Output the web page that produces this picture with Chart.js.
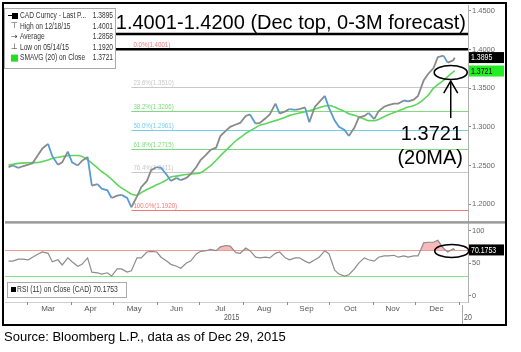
<!DOCTYPE html>
<html lang="en">
<head>
<meta charset="UTF-8">
<title>USDCAD with RSI</title>
<script src="https://cdn.jsdelivr.net/npm/chart.js"></script>
<style>
  body { margin: 0; background: #fff; }
  #wrap { position: relative; width: 521px; height: 352px; }
  #chart { position: absolute; left: 0; top: 0; }
  #source { position: absolute; left: 4px; top: 329px; font: 13px 'Liberation Sans', Arial, sans-serif; color: #000; white-space: nowrap; }
</style>
</head>
<body>
<div id="wrap">
  <canvas id="chart" width="521" height="352"></canvas>
  <div id="source">Source: Bloomberg L.P., data as of Dec 29, 2015</div>
</div>
<script>
const dates = [
  '2015-02-16','2015-02-19','2015-02-23','2015-02-26','2015-03-02','2015-03-05','2015-03-09','2015-03-12',
  '2015-03-16','2015-03-19','2015-03-23','2015-03-26','2015-03-30','2015-04-02','2015-04-06','2015-04-09',
  '2015-04-13','2015-04-16','2015-04-20','2015-04-23','2015-04-27','2015-04-30','2015-05-04','2015-05-07',
  '2015-05-11','2015-05-14','2015-05-18','2015-05-21','2015-05-25','2015-05-28','2015-06-01','2015-06-04',
  '2015-06-08','2015-06-11','2015-06-15','2015-06-18','2015-06-22','2015-06-25','2015-06-29','2015-07-02',
  '2015-07-06','2015-07-09','2015-07-13','2015-07-16','2015-07-20','2015-07-23','2015-07-27','2015-07-30',
  '2015-08-03','2015-08-06','2015-08-10','2015-08-13','2015-08-17','2015-08-20','2015-08-24','2015-08-27',
  '2015-08-31','2015-09-03','2015-09-07','2015-09-10','2015-09-14','2015-09-17','2015-09-21','2015-09-24',
  '2015-09-28','2015-10-01','2015-10-05','2015-10-08','2015-10-12','2015-10-15','2015-10-19','2015-10-22',
  '2015-10-26','2015-10-29','2015-11-02','2015-11-05','2015-11-09','2015-11-12','2015-11-16','2015-11-19',
  '2015-11-23','2015-11-26','2015-11-30','2015-12-03','2015-12-07','2015-12-10','2015-12-14','2015-12-17',
  '2015-12-21','2015-12-24','2015-12-28','2015-12-29'
];
const closeValues = [
  1.2480,1.2500,1.2470,1.2490,1.2510,1.2530,1.2640,1.2720,
  1.2780,1.2620,1.2510,1.2540,1.2680,1.2540,1.2500,1.2560,
  1.2610,1.2240,1.2260,1.2200,1.2180,1.2080,1.2110,1.2120,
  1.2080,1.1960,1.2100,1.2220,1.2300,1.2440,1.2480,1.2470,
  1.2380,1.2300,1.2340,1.2310,1.2340,1.2390,1.2480,1.2570,
  1.2640,1.2700,1.2730,1.2880,1.2950,1.3000,1.3030,1.3050,
  1.3140,1.3160,1.3040,1.3050,1.3110,1.3160,1.3300,1.3170,
  1.3200,1.3230,1.3220,1.3230,1.3250,1.3060,1.3260,1.3320,
  1.3400,1.3240,1.3080,1.3000,1.2960,1.2880,1.2990,1.3120,
  1.3140,1.3180,1.3100,1.3200,1.3260,1.3280,1.3300,1.3300,
  1.3340,1.3330,1.3350,1.3400,1.3600,1.3680,1.3760,1.3900,
  1.3920,1.3830,1.3860,1.3895
];
const smaValues = [
  1.2505,1.2515,1.2527,1.2531,1.2535,1.2537,1.2539,1.2550,
  1.2570,1.2590,1.2606,1.2616,1.2627,1.2630,1.2630,1.2618,
  1.2574,1.2530,1.2470,1.2420,1.2370,1.2322,1.2254,1.2210,
  1.2165,1.2130,1.2115,1.2150,1.2190,1.2215,1.2250,1.2275,
  1.2315,1.2350,1.2363,1.2372,1.2383,1.2390,1.2397,1.2405,
  1.2455,1.2495,1.2568,1.2624,1.2696,1.2750,1.2820,1.2860,
  1.2915,1.2948,1.2990,1.3020,1.3040,1.3058,1.3080,1.3098,
  1.3125,1.3148,1.3165,1.3178,1.3195,1.3208,1.3230,1.3247,
  1.3270,1.3275,1.3255,1.3230,1.3200,1.3168,1.3150,1.3128,
  1.3100,1.3080,1.3078,1.3095,1.3130,1.3155,1.3185,1.3205,
  1.3235,1.3255,1.3275,1.3300,1.3355,1.3405,1.3500,1.3545,
  1.3600,1.3650,1.3710,1.3721
];
const rsiValues = [
  53,53,56,56,55,59,64,67,
  65,52,55,47,58,52,45,48,
  58,36,35,33,35,30,41,41,
  36,38,58,58,67,68,67,59,
  53,48,45,42,50,53,64,68,
  69,71,69,75,77,76,66,65,
  73,69,59,58,59,58,65,67,
  58,55,58,58,53,50,55,59,
  69,64,39,33,30,32,41,50,
  58,55,53,59,61,61,62,59,
  61,59,61,61,81,82,82,85,
  73,67,72,70.1753
];

const priceTicks = [1.20, 1.25, 1.30, 1.35, 1.40, 1.45];
const rsiTicks = [0, 50, 100];
const monthLabels = ['Mar', 'Apr', 'May', 'Jun', 'Jul', 'Aug', 'Sep', 'Oct', 'Nov', 'Dec'];
const monthLabelDates = ['2015-03-16','2015-04-15','2015-05-16','2015-06-15','2015-07-16',
                         '2015-08-16','2015-09-15','2015-10-16','2015-11-15','2015-12-16'];
const monthStartDates = ['2015-03-01','2015-04-01','2015-05-01','2015-06-01','2015-07-01','2015-08-01',
                         '2015-09-01','2015-10-01','2015-11-01','2015-12-01','2016-01-01'];

// fibonacci retracement, low 05/14/15 -> high 12/18/15
const fibLevels = [0, 23.6, 38.2, 50, 61.8, 76.4, 100];
const fibPrices = [1.4001, 1.3510, 1.3206, 1.2961, 1.2715, 1.2411, 1.1920];
const fibStartDate = '2015-05-14';
const forecastRange = [1.4001, 1.4200];

const legendLabels = ['CAD Curncy - Last P...', 'High on 12/18/15', 'Average', 'Low on 05/14/15', 'SMAVG (20) on Close'];
const legendValues = ['1.3895', '1.4001', '1.2858', '1.1920', '1.3721'];
const rsiLegend = 'RSI (11) on Close (CAD) 70.1753';

const toDay = s => (Date.UTC(+s.slice(0, 4), +s.slice(5, 7) - 1, +s.slice(8, 10)) - Date.UTC(2015, 0, 0)) / 864e5;
const days = dates.map(toDay);

const narrow = "'Liberation Sans Narrow', 'Liberation Sans', sans-serif";
const arial = "'Liberation Sans', Arial, sans-serif";
const fibColors = ['#f07a7a', '#c8c8c8', '#7ddc7d', '#74cdea', '#7ddc7d', '#c8c8c8', '#f07a7a'];

// small condensed text, bloomberg style
function condText(ctx, text, x, y, align, size, sx) {
    ctx.save();
    ctx.translate(x, y);
    ctx.scale(sx || 0.82, 1);
    ctx.font = size + 'px ' + arial;
    ctx.textAlign = align;
    ctx.fillText(text, 0, 0);
    ctx.restore();
}

function valueTag(ctx, x, y, text, bg, fg) {
    ctx.fillStyle = bg;
    ctx.fillRect(x, y - 5.5, 35, 11);
    ctx.fillStyle = fg;
    ctx.textBaseline = 'middle';
    condText(ctx, text, x + 2, y + 0.5, 'left', 8.5);
}

const decor = {
    id: 'decor',
    beforeDatasetsDraw(chart) {
        const { ctx, chartArea: a, scales: { x, y, rsi } } = chart;
        ctx.save();
        // fib lines and labels
        const x0 = x.getPixelForValue(toDay(fibStartDate));
        fibLevels.forEach((lv, i) => {
            const py = Math.round(y.getPixelForValue(fibPrices[i])) + 0.5;
            ctx.strokeStyle = fibColors[i];
            ctx.lineWidth = 1;
            ctx.beginPath(); ctx.moveTo(x0, py); ctx.lineTo(a.right, py); ctx.stroke();
            ctx.fillStyle = fibColors[i];
            ctx.textBaseline = 'alphabetic';
            condText(ctx, lv.toFixed(1) + '%(' + fibPrices[i].toFixed(4) + ')', x0 + 2, py - 3, 'left', 7.5);
        });
        // rsi 70 / 30
        [[70, '#f29a9a'], [30, '#84e084']].forEach(([v, c]) => {
            const py = Math.round(rsi.getPixelForValue(v)) + 0.5;
            ctx.strokeStyle = c;
            ctx.lineWidth = 1.2;
            ctx.beginPath(); ctx.moveTo(a.left, py); ctx.lineTo(a.right, py); ctx.stroke();
        });
        ctx.restore();
    },
    afterDraw(chart) {
        const { ctx, chartArea: a, scales: { x, y, rsi } } = chart;
        ctx.save();
        // pane separator
        ctx.fillStyle = '#9a9a9a';
        ctx.fillRect(a.left, y.bottom - 1, 506 - a.left, 2.5);

        // forecast range lines
        ctx.strokeStyle = '#000';
        ctx.lineWidth = 2.5;
        forecastRange.forEach(p => {
            const py = y.getPixelForValue(p);
            ctx.beginPath(); ctx.moveTo(a.left, py); ctx.lineTo(a.right, py); ctx.stroke();
        });
        ctx.fillStyle = '#000';
        ctx.font = '20px ' + arial;
        ctx.textAlign = 'right';
        ctx.textBaseline = 'alphabetic';
        ctx.fillText('1.4001-1.4200 (Dec top, 0-3M forecast)', a.right - 2, y.getPixelForValue(forecastRange[1]) - 5);

        // price legend
        ctx.fillStyle = '#fff';
        ctx.fillRect(4, 8, 111, 60);
        ctx.strokeStyle = '#aaa';
        ctx.lineWidth = 1;
        ctx.strokeRect(4.5, 8.5, 111, 60);
        legendLabels.forEach((lab, i) => {
            const ly = 16 + i * 10.4;
            ctx.fillStyle = '#333';
            ctx.textBaseline = 'middle';
            condText(ctx, lab, 20, ly, 'left', 8.5, 0.78);
            condText(ctx, legendValues[i], 113, ly, 'right', 8.5, 0.78);
            if (i === 0) { ctx.fillStyle = '#000'; ctx.fillRect(12, ly - 3, 6, 6); ctx.fillRect(8, ly - 1, 4, 1); }
            else if (i === 4) { ctx.fillStyle = '#22dd22'; ctx.fillRect(11, ly - 3, 7, 7); }
            else {
                ctx.font = '8px DejaVu Sans';
                ctx.textAlign = 'left';
                ctx.fillText(['', '\u22a4', '\u2192', '\u22a5'][i], 11, ly);
            }
        });

        // 20MA callout
        const lx = x.getPixelForValue(days[days.length - 1]);
        const sy = y.getPixelForValue(smaValues[smaValues.length - 1]);
        const ex = lx - 4;
        ctx.strokeStyle = '#000';
        ctx.lineWidth = 1.6;
        ctx.beginPath(); ctx.ellipse(ex, sy + 1.5, 16.5, 7, 0, 0, Math.PI * 2); ctx.stroke();
        ctx.lineWidth = 1.5;
        ctx.beginPath(); ctx.moveTo(ex, sy + 47); ctx.lineTo(ex, sy + 10); ctx.stroke();
        ctx.beginPath(); ctx.moveTo(ex - 7, sy + 22); ctx.lineTo(ex, sy + 10); ctx.lineTo(ex + 7, sy + 22); ctx.stroke();
        ctx.fillStyle = '#000';
        ctx.font = '20px ' + arial;
        ctx.textAlign = 'right';
        ctx.textBaseline = 'middle';
        ctx.fillText('1.3721', a.right - 6, sy + 63);
        ctx.fillText('(20MA)', a.right - 5, sy + 87);

        // rsi ellipse
        const ry = rsi.getPixelForValue(rsiValues[rsiValues.length - 1]);
        ctx.lineWidth = 1.6;
        ctx.beginPath(); ctx.ellipse(ex + 1, ry + 1, 17, 6.5, 0, 0, Math.PI * 2); ctx.stroke();

        // rsi legend
        ctx.fillStyle = '#fff';
        ctx.fillRect(7, 282, 119, 15);
        ctx.strokeStyle = '#aaa';
        ctx.lineWidth = 1;
        ctx.strokeRect(7.5, 282.5, 119, 15);
        ctx.fillStyle = '#000';
        ctx.fillRect(11, 287, 5, 5);
        ctx.fillStyle = '#333';
        ctx.textBaseline = 'middle';
        condText(ctx, rsiLegend, 17, 290, 'left', 8.5, 0.8);

        // last value tags
        valueTag(ctx, a.right + 1, y.getPixelForValue(closeValues[closeValues.length - 1]), closeValues[closeValues.length - 1].toFixed(4), '#000', '#fff');
        valueTag(ctx, a.right + 1, sy, smaValues[smaValues.length - 1].toFixed(4), '#22ee22', '#000');
        valueTag(ctx, a.right + 1, ry, rsiValues[rsiValues.length - 1].toFixed(4), '#000', '#fff');

        // month boundary ticks, year label
        ctx.strokeStyle = '#888';
        ctx.lineWidth = 1;
        monthStartDates.forEach(d => {
            const px = Math.round(x.getPixelForValue(toDay(d))) + 0.5;
            if (px > a.right) return;
            ctx.beginPath(); ctx.moveTo(px, a.bottom); ctx.lineTo(px, a.bottom + 3); ctx.stroke();
        });
        ctx.fillStyle = '#555';
        ctx.textBaseline = 'middle';
        condText(ctx, '2015', x.getPixelForValue((days[0] + days[days.length - 1]) / 2), 318, 'center', 8.5);
        ctx.strokeStyle = '#aaa';
        ctx.beginPath(); ctx.moveTo(a.right - 5.5, a.bottom + 3); ctx.lineTo(a.right - 5.5, 324); ctx.stroke();
        condText(ctx, '20', a.right - 4, 318, 'left', 8.5);

        // outer frame
        ctx.strokeStyle = '#000';
        ctx.lineWidth = 2;
        ctx.strokeRect(3, 3, 503, 322);
        ctx.restore();
    }
};

new Chart(document.getElementById('chart'), {
    type: 'line',
    data: {
        datasets: [
            {
                label: 'CAD Curncy',
                data: days.map((d, i) => ({ x: d, y: closeValues[i] })),
                yAxisID: 'y',
                borderWidth: 1.8,
                pointRadius: 0,
                borderColor: '#5b9bd5',
                segment: {
                    borderColor: c => c.p1.parsed.y >= c.p0.parsed.y ? '#8a8a8a' : '#5b9bd5'
                }
            },
            {
                label: 'SMAVG (20)',
                data: days.map((d, i) => ({ x: d, y: smaValues[i] })),
                yAxisID: 'y',
                borderWidth: 1.6,
                pointRadius: 0,
                borderColor: '#5cd65c',
                cubicInterpolationMode: 'monotone'
            },
            {
                label: 'RSI (11)',
                data: days.map((d, i) => ({ x: d, y: rsiValues[i] })),
                yAxisID: 'rsi',
                borderWidth: 1.2,
                pointRadius: 0,
                borderColor: '#8c8c8c',
                fill: { target: { value: 70 }, above: 'rgba(240,140,140,0.6)', below: 'rgba(0,0,0,0)' }
            }
        ]
    },
    options: {
        responsive: false,
        animation: false,
        layout: { padding: { left: 5, top: 5, right: 0, bottom: 26 } },
        plugins: { legend: { display: false }, tooltip: { enabled: false } },
        scales: {
            x: {
                type: 'linear',
                min: 44.5,
                max: 372.4,
                afterBuildTicks: axis => { axis.ticks = monthLabelDates.map(d => ({ value: toDay(d) })); },
                afterFit: axis => { axis.height = 24; },
                ticks: {
                    autoSkip: false, maxRotation: 0, padding: 2,
                    color: '#555', font: { size: 8, family: narrow },
                    callback: (v, i) => monthLabels[i]
                },
                grid: { display: false, drawTicks: false },
                border: { color: '#cfcfcf' }
            },
            y: {
                axis: 'y',
                position: 'right',
                stack: 'panes',
                stackWeight: 217,
                min: 1.1768,
                max: 1.4568,
                afterBuildTicks: axis => { axis.ticks = priceTicks.map(v => ({ value: v })); },
                afterFit: axis => { axis.width = 53; },
                ticks: {
                    padding: 1, color: '#666', font: { size: 7.5, family: narrow },
                    callback: v => v.toFixed(4)
                },
                grid: { drawOnChartArea: false, tickLength: 3, color: '#888' },
                border: { color: '#b0b0b0' }
            },
            rsi: {
                axis: 'y',
                type: 'linear',
                position: 'right',
                stack: 'panes',
                stackWeight: 80,
                min: -10,
                max: 113,
                afterBuildTicks: axis => { axis.ticks = rsiTicks.map(v => ({ value: v })); },
                afterFit: axis => { axis.width = 53; },
                ticks: {
                    padding: 1, color: '#666', font: { size: 7.5, family: narrow },
                    callback: v => String(v)
                },
                grid: { drawOnChartArea: false, tickLength: 3, color: '#888' },
                border: { color: '#b0b0b0' }
            }
        }
    },
    plugins: [decor]
});
</script>
</body>
</html>
